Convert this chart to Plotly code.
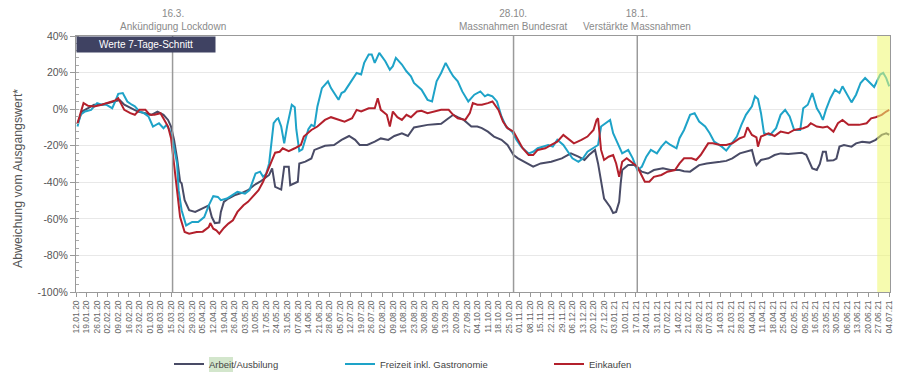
import pandas as pd
import plotly.graph_objects as go

START = "2020-01-12"
END = "2021-07-04"

# day offsets from START and values (% deviation from baseline, 7-day average)
arbeit_day = [1, 4, 8, 12, 17, 21, 26, 29, 32, 37, 41, 46, 50, 54, 58, 61, 63, 65, 67, 69, 70, 72, 75, 79, 83, 88, 90, 92, 95, 96, 98,
              101, 105, 110, 114, 118, 122, 125, 128, 130, 132, 136, 138, 141, 142, 147, 148, 152, 156, 158, 165, 171, 176, 181, 185,
              188, 193, 198, 202, 207, 211, 216, 220, 224, 229, 233, 238, 242, 246, 250, 253, 257, 262, 266, 269, 273, 277, 282, 286,
              290, 293, 297, 303, 308, 315, 322, 328, 333, 337, 340, 344, 346, 348, 350, 354, 356, 358, 360, 361, 362, 366, 370, 375,
              379, 383, 389, 394, 400, 403, 407, 410, 413, 418, 422, 427, 431, 435, 440, 444, 448, 450, 451, 454, 459, 463, 467, 472,
              476, 481, 484, 486, 488, 491, 493, 495, 497, 498, 502, 504, 506, 509, 514, 517, 521, 526, 530, 534, 537, 539]
arbeit_val = [-8, -1.3, 0.5, 2.4, 2.4, 3.3, 4.2, 5, 2.4, 0.5, -1.3, -2.2, -3.1, -1.3, -3.1, -5.9, -9.5, -16.8, -26.9, -39.7, -40.5,
              -49.8, -55.3, -56.2, -54.4, -52.6, -59, -62.3, -62, -56.2, -50.7, -48.9, -47.1, -45.8, -44.3, -41.6, -39.7, -37.9, -36,
              -32.4, -42.5, -44, -31.5, -31.5, -41.6, -39.7, -29.7, -28.7, -27, -22.3, -20, -19.6, -16.8, -14.7, -16.8, -19.6, -19.6,
              -17.8, -16, -16.8, -14.7, -13.2, -14.7, -10, -9.2, -8.6, -8.2, -8, -5.5, -3.1, -4.4, -5.9, -9.5, -9.5, -10.4, -12.3, -15,
              -16.8, -19.6, -25.1, -26.9, -28.8, -31.5, -29.7, -28.8, -26.9, -24.2, -26, -27.8, -25.1, -22.3, -29.7, -39.7, -48.9,
              -53.5, -56.8, -56.2, -50.7, -40.7, -33.3, -30.6, -30.6, -34.2, -35.2, -33.3, -32.4, -33.3, -33.3, -34, -34.2, -32.4,
              -30.6, -29.7, -29.4, -28.8, -28.3, -26.9, -24.2, -23.3, -22.3, -28.8, -30.6, -27.8, -26.9, -25.1, -24.2, -24.5, -24.2,
              -23.8, -25, -28.8, -32.4, -33.3, -30, -23.3, -23.3, -28.2, -28, -27, -20.5, -19.6, -20.5, -18.7, -17.8, -18.3, -16.8,
              -14.1, -13.2, -14]

freizeit_day = [1, 3, 6, 10, 14, 17, 20, 24, 26, 28, 31, 34, 37, 39, 42, 45, 48, 51, 55, 58, 60, 62, 64, 67, 68, 70, 73, 77, 81, 85,
                88, 91, 94, 96, 100, 103, 107, 112, 115, 119, 122, 124, 126, 128, 131, 133, 134, 136, 138, 140, 143, 145, 146, 148,
                150, 154, 156, 158, 160, 163, 167, 169, 174, 176, 178, 183, 186, 189, 191, 194, 196, 198, 201, 205, 208, 210, 212,
                216, 219, 222, 224, 229, 233, 236, 239, 242, 245, 248, 250, 253, 256, 260, 264, 268, 271, 273, 276, 279, 282, 285,
                289, 292, 295, 300, 303, 306, 309, 313, 316, 319, 323, 326, 329, 333, 336, 339, 343, 346, 348, 351, 354, 356, 359,
                362, 366, 369, 372, 375, 378, 381, 385, 388, 391, 394, 398, 400, 403, 407, 410, 413, 417, 420, 423, 428, 431, 434,
                438, 441, 444, 448, 450, 452, 454, 456, 460, 464, 467, 470, 473, 476, 480, 482, 485, 488, 491, 493, 495, 497, 500,
                503, 506, 508, 512, 514, 517, 520, 523, 526, 529, 533, 535, 537, 539]
freizeit_val = [-9.5, -3.1, -1.3, -0.4, 3.3, 2.4, 2.4, 0.5, 4.2, 8.4, 8.8, 4.2, 2.4, 1.5, -1.3, -2.2, -4, -9.5, -7.7, -10.4, -8.6,
                -11.4, -16.8, -29.7, -44.3, -55.3, -63.6, -61.7, -61.7, -59, -52.6, -47.6, -48, -49.8, -48.9, -47.1, -45.2, -46.2,
                -44.3, -35.2, -34.2, -37, -35.5, -29.7, -7.7, -5.5, -5, -9.5, -18.7, -9, 2.4, 1, -11, -23, -22, -11, -8.6, -9.5, 1.5,
                11.5, 15.2, 11.5, 5.1, 8.8, 9.7, 16, 19.8, 19, 25.3, 29.9, 29.9, 25.3, 30.8, 26.2, 21.6, 23.5, 28, 24.4, 20.7, 18,
                14.3, 10.6, 5.1, 4.2, 15.2, 19.8, 25.3, 20.7, 18, 15.2, 9.7, 4.2, 7.9, 9.7, 7, 7.9, 7, 4.2, -4, -9.5, -12.3, -16.8,
                -20.5, -24.2, -23.3, -21.4, -20.5, -19.6, -20.5, -16.8, -19.6, -23.3, -26.9, -28.8, -26.9, -23.3, -21.4, -19.6, -9.5,
                -7.7, -5.9, -13.2, -18.7, -24.2, -22.3, -26.9, -33.3, -31.5, -26, -22.3, -24.2, -20.5, -17.8, -19.6, -21.4, -15.9,
                -11.4, -3.1, -2.2, -6.8, -9.5, -13.2, -17.8, -20.5, -22.7, -19.6, -15, -8.6, -3.1, 1.5, 7, 5.5, -2.2, -13.2, -14.1,
                -10.4, -3.1, -0.4, -4, -11.4, -11.4, 0.5, 2.4, 8.8, 0.5, -2.2, -5.9, -0.4, 6, 10.6, 8.8, 12.5, 7, 3.7, 7.9, 14.3, 17,
                14.3, 12.1, 18.9, 19.8, 17, 12.5]

einkaufen_day = [1, 5, 8, 12, 17, 21, 26, 28, 30, 32, 36, 39, 42, 46, 49, 52, 56, 58, 61, 63, 65, 67, 69, 72, 75, 80, 84, 88, 89, 91,
                 93, 95, 98, 101, 104, 107, 111, 114, 117, 121, 124, 127, 130, 132, 135, 137, 141, 145, 149, 151, 156, 160, 165,
                 169, 174, 178, 183, 186, 189, 194, 198, 200, 202, 206, 208, 210, 213, 216, 219, 222, 226, 229, 233, 238, 242, 247,
                 250, 253, 258, 261, 263, 266, 269, 273, 276, 280, 283, 286, 290, 293, 296, 300, 303, 306, 311, 315, 319, 323, 326,
                 330, 335, 339, 343, 345, 346, 348, 350, 353, 356, 358, 360, 362, 365, 368, 372, 377, 380, 383, 388, 392, 397, 400,
                 403, 408, 411, 414, 419, 422, 427, 431, 435, 440, 443, 445, 448, 451, 452, 454, 459, 463, 467, 472, 476, 482, 485,
                 487, 491, 495, 498, 502, 505, 508, 512, 515, 519, 524, 527, 530, 534, 537, 539]
einkaufen_val = [-7.7, 3.3, 1.8, 1.5, 2.4, 3.3, 4.8, 6, 2.4, -0.4, -2.2, -3.1, -0.4, -0.4, -3.1, -3.1, -2.2, -4.9, -9.5, -15.9,
                 -29.7, -44.3, -59, -67.2, -68.1, -67.2, -67, -64.5, -62.3, -65.4, -66.3, -68.1, -65, -62.6, -60.8, -56.2, -52.6,
                 -50.7, -48, -44.3, -39.7, -33.3, -27.8, -23.8, -23.3, -21.4, -23, -21.4, -19.6, -15, -11.4, -9.5, -5.9, -4.4, -5.9,
                 -6.8, -5, -0.4, -1.3, 0.5, 0.5, 6, -0.4, -3.1, -9.5, -1.3, -4.4, -5.9, -3.1, -4.4, -1.3, -0.9, -2.2, -1.3, -0.4,
                 -0.4, -3.1, -5, -5.9, -2.2, 3.3, 2.4, 2.4, 3.3, 4.2, -0.4, -6.8, -10.4, -12.3, -16.8, -21.4, -25.1, -25.1, -22.3,
                 -21.4, -19.6, -17.8, -14.1, -16, -18.7, -16.8, -15, -11.4, -5.9, -5, -22.3, -27.8, -26, -25.1, -29.7, -37, -28.8,
                 -26.9, -28.8, -31.5, -39.7, -39.7, -37, -36, -34.2, -33.3, -29.7, -26.9, -26.9, -27.8, -25.1, -18.7, -18.7, -19.6,
                 -19.6, -18.7, -15.9, -15, -9.9, -14.1, -15.5, -20.5, -15, -13.2, -14.7, -12.3, -13.2, -11.4, -10.4, -9.5, -7.7,
                 -9.5, -10, -9.5, -12.3, -7.7, -5.9, -8.6, -8.6, -8.6, -7.7, -5, -4.4, -3.1, -1.3, -0.4]

series_names = ["Arbeit/Ausbilung", "Freizeit inkl. Gastronomie", "Einkaufen"]
series_colors = ["#494b66", "#1ea3c8", "#b3202c"]

event_dates = ["2020-03-16", "2020-10-28", "2021-01-18"]
event_labels = ["16.3.<br>Ankündigung Lockdown", "28.10.<br>Massnahmen Bundesrat", "18.1.<br>Verstärkte Massnahmen"]
highlight_start, highlight_end = "2021-06-26", "2021-07-04"

y_ticks = [40, 20, 0, -20, -40, -60, -80, -100]
y_title = "Abweichung vom Ausgangswert*"


def to_dates(days):
    return pd.to_datetime(START) + pd.to_timedelta(days, unit="D")


FONT = "Liberation Sans, Arial, sans-serif"
PL, PR, PT, PB = 76, 890, 36, 292  # plot area edges in page pixels


def px_x(p):
    return (p - PL) / (PR - PL)


def px_y(p):
    return (PB - p) / (PB - PT)


fig = go.Figure()

data = [(arbeit_day, arbeit_val), (freizeit_day, freizeit_val), (einkaufen_day, einkaufen_val)]
legend_ids = ["legend", "legend2", "legend3"]
for (d, v), name, col, lg in zip(data, series_names, series_colors, legend_ids):
    fig.add_trace(go.Scatter(x=to_dates(d), y=v, mode="lines", name=name,
                             line=dict(color=col, width=2), legend=lg,
                             hovertemplate="%{x|%d.%m.%y}: %{y:.0f}%<extra>" + name + "</extra>"))

shapes = []
for ed in event_dates:
    shapes.append(dict(type="line", xref="x", yref="paper", x0=ed, x1=ed, y0=0, y1=1,
                       line=dict(color="#9a9a9a", width=1.5), layer="above"))
shapes.append(dict(type="rect", xref="x", yref="paper", x0=highlight_start, x1=highlight_end + " 12:00", y0=0, y1=1,
                   fillcolor="rgba(238,248,110,0.55)", line=dict(width=0), layer="above"))
# text highlight behind "Arbeit" in legend
shapes.append(dict(type="rect", xref="paper", yref="paper", x0=px_x(209), x1=px_x(233),
                   y0=px_y(357), y1=px_y(372),
                   fillcolor="#d3e6cc", line=dict(width=0), layer="below"))

annotations = []
for ed, lab in zip(event_dates, event_labels):
    annotations.append(dict(x=ed, xref="x", y=1, yref="paper", yanchor="bottom", xanchor="center",
                            text=lab, showarrow=False, yshift=2,
                            font=dict(family=FONT, size=10, color="#8a8a8a")))
annotations.append(dict(x=0, xref="paper", y=1, yref="paper", xanchor="left", yanchor="top",
                        text="Werte 7-Tage-Schnitt", showarrow=False, bgcolor="#3f4262",
                        width=134, height=11, borderpad=2, align="center",
                        font=dict(family=FONT, size=10, color="white")))
annotations.append(dict(x=px_x(18), xref="paper", y=px_y(179), yref="paper", xanchor="center", yanchor="middle",
                        text=y_title, textangle=-90, showarrow=False,
                        font=dict(family=FONT, size=12.3, color="#555")))

legend_common = dict(orientation="h", yref="paper", y=px_y(364), yanchor="middle", xanchor="left",
                     bgcolor="rgba(0,0,0,0)", font=dict(family=FONT, size=9.5, color="#444"),
                     itemwidth=30, tracegroupgap=0)

fig.update_layout(
    width=900, height=383,
    margin=dict(l=PL, r=900 - PR, t=PT, b=383 - PB, autoexpand=False),
    paper_bgcolor="white", plot_bgcolor="white",
    font=dict(family=FONT, color="#555"),
    showlegend=True,
    legend=dict(x=px_x(169), **legend_common),
    legend2=dict(x=px_x(340), **legend_common),
    legend3=dict(x=px_x(549), **legend_common),
    shapes=shapes,
    annotations=annotations,
)

fig.update_xaxes(
    range=[START, END + " 12:00"],
    tickmode="array",
    tickvals=pd.date_range(START, END, freq="7D"),
    tickformat="%d.%m.%y",
    tickangle=-90,
    tickfont=dict(family=FONT, size=8.5, color="#666"),
    ticks="outside", ticklen=4, tickcolor="#999",
    showline=True, linecolor="#999", linewidth=1, mirror=True,
    showgrid=False, zeroline=False, automargin=False,
)
fig.update_yaxes(
    range=[-100, 40],
    tickmode="array", tickvals=y_ticks, ticktext=[f"{t}%" for t in y_ticks],
    tickfont=dict(family=FONT, size=10.5, color="#555"),
    ticks="outside", ticklen=5, tickcolor="#999",
    minor=dict(dtick=4, ticks="inside", ticklen=3, tickcolor="#aaa", showgrid=False),
    showline=True, linecolor="#999", linewidth=1, mirror=True,
    showgrid=True, gridcolor="#e8e8e8", gridwidth=1, zeroline=False, automargin=False,
)

fig.write_html("out.html", config={"displayModeBar": False},
               post_script="document.body.style.margin='0';")
